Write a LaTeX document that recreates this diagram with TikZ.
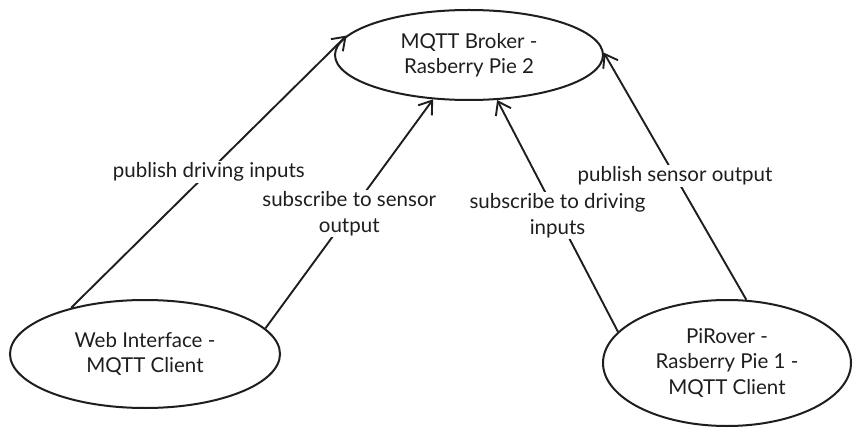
\documentclass[tikz,border=0pt]{standalone}
\usepackage{fontspec}
\setmainfont{Lato}
\usetikzlibrary{shapes.geometric,arrows.meta}

\definecolor{ink}{HTML}{1E1E1E}

\begin{document}
\begin{tikzpicture}[x=1pt, y=-1pt, >={Straight Barb[length=12pt,width=17pt]},
  line width=1.9pt, draw=ink, text=ink,
  every node/.style={font=\fontsize{20.5}{25.5}\selectfont, align=center},
  client/.style={ellipse, draw=ink, line width=2pt, inner sep=0pt},
  lbl/.style={fill=white, inner sep=1.5pt, midway}]

\useasboundingbox (0,0) rectangle (859,438);

% the three machines
\node[client, minimum width=268pt, minimum height=90pt] (broker) at (469,55)
  {MQTT Broker -\\Rasberry Pie 2};
\node[client, minimum width=270pt, minimum height=108pt] (web) at (145,354)
  {Web Interface -\\MQTT Client};
\node[client, minimum width=248pt, minimum height=126pt] (rover) at (727,363)
  {PiRover -\\Rasberry Pie 1 -\\MQTT Client};

% web interface <-> broker
\draw[->, ink] (web.148) -- node[lbl] (pubdrive) {publish driving inputs} (broker.171);
\draw[->, ink] (web.12) -- node[lbl] (subsensor) {subscribe to sensor\\output} (broker.231);

% rover <-> broker
\draw[->, ink] (rover.164) -- node[lbl] (subdrive) {subscribe to driving\\inputs} (broker.302);
\draw[->, ink] (rover.73) -- node[lbl] (pubsensor) {publish sensor output} (broker.1);

\end{tikzpicture}
\end{document}
